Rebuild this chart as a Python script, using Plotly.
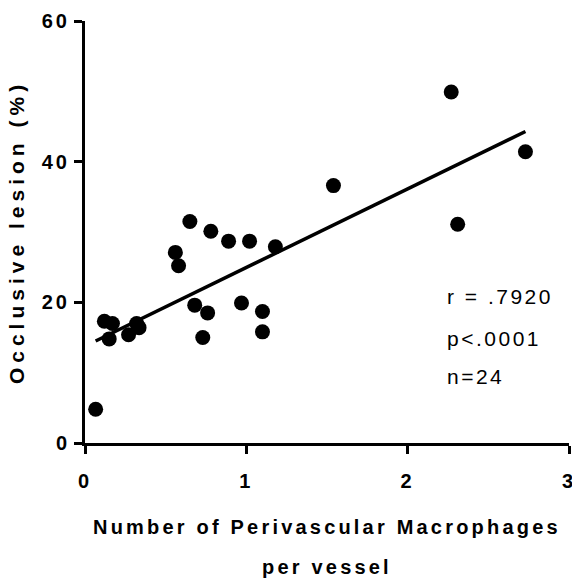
import numpy as np
import plotly.graph_objects as go

# Data
macrophages = [0.066, 0.12, 0.17, 0.15, 0.27, 0.32, 0.335, 0.56, 0.58, 0.65, 0.68, 0.76,
               0.73, 0.78, 0.89, 1.02, 0.97, 1.10, 1.10, 1.18, 1.54, 2.27, 2.31, 2.73]
lesion = [4.8, 17.3, 17.0, 14.8, 15.4, 17.0, 16.4, 27.1, 25.2, 31.5, 19.6, 18.5,
          15.0, 30.1, 28.7, 28.7, 19.9, 18.7, 15.8, 27.9, 36.6, 49.9, 31.1, 41.4]
x_ticks = [0, 1, 2, 3]
y_ticks = [0, 20, 40, 60]
stats_lines = ["r = .7920", "p<.0001", "n=24"]
x_title_lines = ["Number of Perivascular Macrophages", "per vessel"]
y_title = "Occlusive lesion (%)"

FONT = "Liberation Sans, Arial"

def spaced(t, ls=3, bold=True):
    s = f'<span style="letter-spacing:{ls}px">{t}</span>'
    return f"<b>{s}</b>" if bold else s

slope, intercept = np.polyfit(macrophages, lesion, 1)
fx = np.array([min(macrophages), max(macrophages)])
fy = slope * fx + intercept

fig = go.Figure()
fig.add_trace(go.Scatter(x=fx, y=fy, mode="lines",
                         line=dict(color="black", width=3.5), showlegend=False))
fig.add_trace(go.Scatter(x=macrophages, y=lesion, mode="markers",
                         marker=dict(color="black", size=15, line=dict(width=0)),
                         showlegend=False, cliponaxis=False))

fig.update_xaxes(range=[0, 3], tickvals=x_ticks,
                 ticktext=[spaced(str(v)) for v in x_ticks],
                 showgrid=False, zeroline=False, showline=True, linecolor="black",
                 linewidth=3, ticks="outside", ticklen=8, tickwidth=3, tickcolor="black",
                 tickfont=dict(family=FONT, size=20, color="black"),
                 ticklabelstandoff=10, ticklabeloverflow="allow", automargin=False)
fig.update_yaxes(range=[0, 60], tickvals=y_ticks,
                 ticktext=[spaced(str(v)) for v in y_ticks],
                 showgrid=False, zeroline=False, showline=True, linecolor="black",
                 linewidth=3, ticks="outside", ticklen=8, tickwidth=3, tickcolor="black",
                 tickfont=dict(family=FONT, size=20, color="black"), automargin=False,
                 title=dict(text=spaced(y_title, 5), standoff=12,
                            font=dict(family=FONT, size=21, color="black")))

annotations = []
for i, t in enumerate(x_title_lines):
    annotations.append(dict(xref="paper", yref="paper", x=0.5, y=-0.20 - i * 0.0945,
                            text=spaced(t, 3.2), showarrow=False, xanchor="center",
                            yanchor="middle",
                            font=dict(family=FONT, size=20, color="black")))
stat_y = [20.8, 14.9, 9.4]
for t, yy in zip(stats_lines, stat_y):
    annotations.append(dict(x=2.23, y=yy, xref="x", yref="y", text=spaced(t, 2.5, bold=False),
                            showarrow=False, xanchor="left", yanchor="middle",
                            font=dict(family=FONT, size=21, color="black")))

fig.update_layout(width=572, height=583, margin=dict(l=85, r=3, t=21, b=140),
                  plot_bgcolor="white", paper_bgcolor="white",
                  annotations=annotations)

fig.write_html("out.html")
